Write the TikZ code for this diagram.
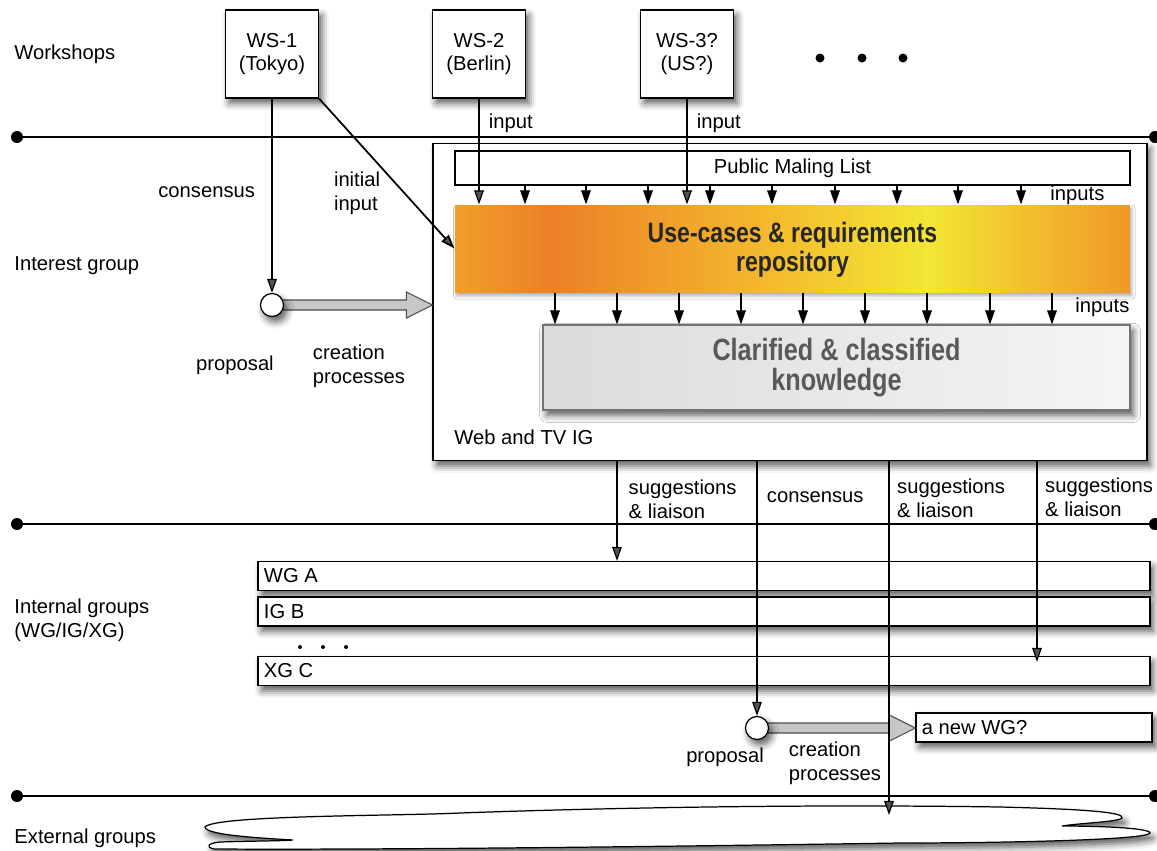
\documentclass[tikz,border=0pt]{standalone}
\usepackage{fontspec}
\setmainfont{Liberation Sans}
\newfontfamily\condbold{Liberation Sans}[FakeStretch=0.82]
\usetikzlibrary{positioning, arrows.meta, calc, shadows.blur}

\newcommand{\flowarrow}{-{Triangle[length=8pt,width=5.5pt]}}
% broad grey arrow for the creation processes
\newcommand{\fatarrow}[2]{%
  \draw[fatshaft] ($(#1)+(0,-5)$) -- ($(#2)+(-26,-5)$) -- ($(#2)+(-26,-13)$) -- (#2)
    -- ($(#2)+(-26,13)$) -- ($(#2)+(-26,5)$) -- ($(#1)+(0,5)$) -- cycle;}

\definecolor{ucleft}{RGB}{241,158,42}
\definecolor{ucspot}{RGB}{236,128,40}
\definecolor{ucmid}{RGB}{244,185,45}
\definecolor{ucyellow}{RGB}{243,230,52}
\definecolor{ucright}{RGB}{240,152,40}
\pgfdeclarehorizontalshading{ucshade}{100bp}{color(0bp)=(ucleft); color(25bp)=(ucleft);
  color(32bp)=(ucspot); color(48bp)=(ucmid); color(60bp)=(ucyellow);
  color(75bp)=(ucright); color(100bp)=(ucright)}

\tikzset{
  softshadow/.style={blur shadow={shadow xshift=2pt, shadow yshift=-3pt,
      shadow blur radius=4pt, shadow opacity=65}},
  wsbox/.style={draw, fill=white, softshadow, minimum width=1.86cm,
      minimum height=1.76cm, align=center},
  grpbar/.style={draw, fill=white, softshadow, minimum width=17.84cm,
      minimum height=0.58cm},
  propdot/.style={draw, circle, fill=white, softshadow, minimum size=0.46cm,
      inner sep=0pt},
  lane/.style={line width=.8pt},
  fatshaft/.style={draw=black!70, fill=black!22, line width=.6pt},
  twoline/.style={align=left},
}

\begin{document}
\begin{tikzpicture}[x=0.02cm, y=-0.02cm, line width=.7pt, font=\fontsize{11.5}{13.5}\selectfont]
\useasboundingbox (0,0) rectangle (1157,850);

% swim lanes
\foreach \ly in {137,524,796}{
  \draw[lane] (17,\ly) -- (1155,\ly);
  \fill (17,\ly) circle (6);
  \fill (1155,\ly) circle (6);
}
\node[anchor=west] (lblws) at (8,54) {Workshops};
\node[anchor=west] (lblig) at (8,266) {Interest group};
\node[anchor=west, twoline] (lblint) at (8,620) {Internal groups\\(WG/IG/XG)};
\node[anchor=west] (lblext) at (8,838) {External groups};

% workshops
\node[wsbox] (ws1) at (272,54) {WS-1\\(Tokyo)};
\node[wsbox] (ws2) at (479,54) {WS-2\\(Berlin)};
\node[wsbox] (ws3) at (687,54) {WS-3?\\(US?)};
\foreach \x in {820,862,903} \fill (\x,58) circle (4.5);

% interest group
\node[draw, fill=white, softshadow, minimum width=14.28cm, minimum height=6.34cm] (ig) at (790,302) {};
\node[draw, fill=white, minimum width=13.5cm, minimum height=0.68cm] (ml) at (792.5,168) {Public Maling List};
\node[shade, shading=ucshade, blur shadow={shadow xshift=1pt, shadow yshift=-2pt, shadow blur radius=2pt, shadow opacity=35},
  minimum width=13.5cm, minimum height=1.74cm, align=center, text=black!85, text depth=2pt,
  font=\condbold\bfseries\fontsize{16}{17}\selectfont] (uc) at (792.5,248.5) {Use-cases \& requirements\\repository};
\node[draw=black!55, left color=black!14, right color=black!4, softshadow,
  minimum width=11.74cm, minimum height=1.7cm, align=center, text=black!65,
  font=\condbold\bfseries\fontsize{17.5}{17.5}\selectfont] (ck) at (836.5,367.5) {Clarified \& classified\\knowledge};
\node[anchor=west] (igname) at (448,437) {Web and TV IG};
\node[anchor=west] (inputsa) at (1044,195) {inputs};
\node[anchor=west] (inputsb) at (1069,307) {inputs};

\foreach \x in {525,586,648,710,772,835,897,958,1021}
  \draw[\flowarrow] (ml.south -| \x,0) -- (uc.north -| \x,0);
\foreach \x in {555,617,679,741,803,865,927,990,1052}
  \draw[\flowarrow] (uc.south -| \x,0) -- (ck.north -| \x,0);

% internal groups
\node[grpbar, label={[anchor=west]west:WG A}] (wga) at (704,576) {};
\node[grpbar, label={[anchor=west]west:IG B}] (igb) at (704,611.5) {};
\node[grpbar, label={[anchor=west]west:XG C}] (xgc) at (704,671) {};
\foreach \x in {300,323,346} \fill (\x,647) circle (2);
\node[draw, fill=white, softshadow, minimum width=4.72cm, minimum height=0.58cm,
  label={[anchor=west]west:a new WG?}] (newwg) at (1034,727.5) {};

% external groups
\draw[fill=white, softshadow] (205,827)
  .. controls (215,815) and (400,816) .. (460,813)
  .. controls (600,808) and (800,804) .. (1000,807)
  .. controls (1080,809) and (1125,812) .. (1122,818)
  .. controls (1118,822) and (1080,823) .. (1062,826)
  .. controls (1100,826) and (1150,828) .. (1150,833)
  .. controls (1148,840) and (1000,843) .. (900,843)
  .. controls (700,846) and (400,850) .. (214,849)
  .. controls (205,847) and (208,843) .. (220,842)
  .. controls (250,841) and (280,841) .. (293,840)
  .. controls (260,838) and (205,835) .. cycle;

% proposals and creation processes
\coordinate (p1c) at (272,305);
\coordinate (fa1) at (p1c -| ig.west);
\fatarrow{p1c}{fa1}
\node[propdot] (prop1) at (p1c) {};
\node (prop1lbl) at (235,365) {proposal};
\node[twoline] (crea1) at (359,366) {creation\\processes};

\coordinate (p2c) at (757,728);
\coordinate (fa2) at (p2c -| newwg.west);
\fatarrow{p2c}{fa2}
\node[propdot] (prop2) at (p2c) {};
\node (prop2lbl) at (725,757) {proposal};
\node[twoline] (crea2) at (835,763) {creation\\processes};

% flows from the workshops
\draw[\flowarrow] (ws1.south) -- (prop1.north) node[pos=.48, left=6pt] {consensus};
\draw[\flowarrow, line width=1pt] (ws1.south east) -- (uc.west) node[pos=.63, left=10pt, twoline] {initial\\input};
\draw[\flowarrow] (ws2.south) -- (ws2.south |- uc.north) node[pos=.23, right=2pt] {input};
\draw[\flowarrow] (ws3.south) -- (ws3.south |- uc.north) node[pos=.23, right=2pt] {input};

% flows from the interest group
\draw[\flowarrow] (ig.south -| 617,0) -- (wga.north -| 617,0)
  node[pos=.38, right=3pt, twoline] {suggestions\\\& liaison};
\draw[\flowarrow] (ig.south -| prop2) -- (prop2.north) node[pos=.14, right=2pt] {consensus};
\coordinate (cloudtop) at (889,815);
\draw[\flowarrow] (ig.south -| cloudtop) -- (cloudtop)
  node[pos=.105, right=1pt, twoline] {suggestions\\\& liaison};
\draw[\flowarrow] (ig.south -| 1037,0) -- ($(xgc.north -| 1037,0)+(0,6)$)
  node[pos=.18, right=1pt, twoline] {suggestions\\\& liaison};
\end{tikzpicture}
\end{document}
